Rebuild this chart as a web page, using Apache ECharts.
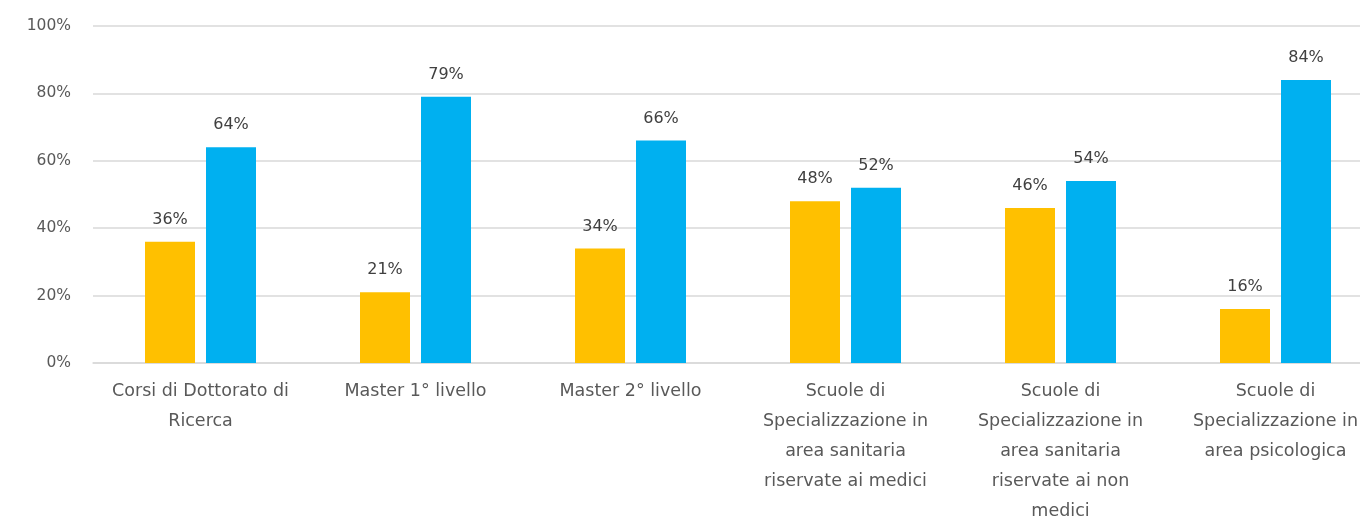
<!DOCTYPE html>
<html><head><meta charset="utf-8">
<script src="https://cdn.jsdelivr.net/npm/echarts@6/dist/echarts.min.js"></script>
<style>html,body{margin:0;padding:0;background:#fff}#c{width:1360px;height:520px}</style>
</head><body><div id="c"></div>
<script>
const categories = [
  "Corsi di Dottorato di\nRicerca",
  "Master 1° livello",
  "Master 2° livello",
  "Scuole di\nSpecializzazione in\narea sanitaria\nriservate ai medici",
  "Scuole di\nSpecializzazione in\narea sanitaria\nriservate ai non\nmedici",
  "Scuole di\nSpecializzazione in\narea psicologica"
];
const seriesYellow = [36, 21, 34, 48, 46, 16];
const seriesBlue = [64, 79, 66, 52, 54, 84];
const yTicks = [0, 20, 40, 60, 80, 100];

const font = "'DejaVu Sans', sans-serif";
const chart = echarts.init(document.getElementById('c'), null, {renderer: 'canvas'});
chart.setOption({
  animation: false,
  grid: {left: 93, right: -23, top: 26, bottom: 157, containLabel: false, outerBoundsMode: 'none'},
  xAxis: {
    type: 'category', data: categories,
    axisLine: {lineStyle: {color: '#d9d9d9', width: 1.5}},
    axisTick: {show: false},
    axisLabel: {color: '#595959', fontFamily: font, fontSize: 17.5, lineHeight: 30, margin: 13, interval: 0}
  },
  yAxis: {
    type: 'value', min: yTicks[0], max: yTicks[yTicks.length-1], interval: 20,
    axisLine: {show: false}, axisTick: {show: false},
    splitLine: {lineStyle: {color: '#d9d9d9', width: 1.5}},
    axisLabel: {color: '#595959', fontFamily: font, fontSize: 15.5, margin: 22, formatter: v => v + '%'}
  },
  series: [
    {type: 'bar', data: seriesYellow, barWidth: 50, barGap: '22%',
     itemStyle: {color: '#FFC000'},
     label: {show: true, position: 'top', distance: 14, color: '#404040', fontFamily: font, fontSize: 16, formatter: p => p.value + '%'}},
    {type: 'bar', data: seriesBlue, barWidth: 50,
     itemStyle: {color: '#00B0F0'},
     label: {show: true, position: 'top', distance: 14, color: '#404040', fontFamily: font, fontSize: 16, formatter: p => p.value + '%'}}
  ]
});
</script></body></html>
